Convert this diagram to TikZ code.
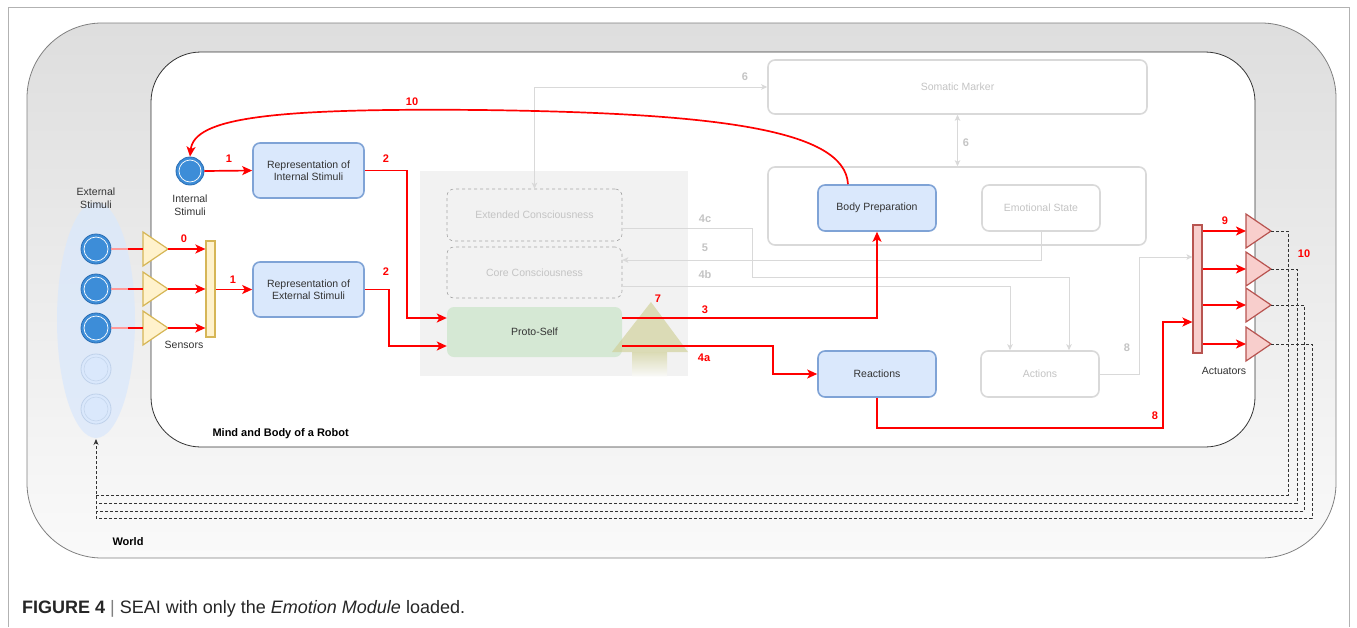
\documentclass[tikz,border=0pt]{standalone}
\usepackage{fontspec}
\setmainfont{Liberation Sans}
\usetikzlibrary{arrows.meta,calc}
\definecolor{redline}{HTML}{FF0000}
\definecolor{bluefill}{HTML}{DAE8FC}
\definecolor{blueedge}{HTML}{7FA3D6}
\definecolor{dimtext}{HTML}{C4C4C4}
\definecolor{dimedge}{HTML}{D9D9D9}
\definecolor{darktext}{HTML}{333333}
\definecolor{sensfill}{HTML}{FFF2CC}
\definecolor{sensedge}{HTML}{D6B656}
\definecolor{actfill}{HTML}{F8CECC}
\definecolor{actedge}{HTML}{B85450}
\definecolor{stimfill}{HTML}{3D8DD8}
\definecolor{stimedge}{HTML}{2C6EB3}
\definecolor{protofill}{HTML}{D5E8D4}
\definecolor{olive}{HTML}{CFCF96}
\tikzset{
  x=1pt, y=-1pt,
  every node/.style={font=\fontsize{10.5}{12.5}\selectfont, text=darktext, align=center},
  activebox/.style={draw=blueedge, line width=1.6pt, fill=bluefill, rounded corners=7pt, inner sep=0pt},
  dimbox/.style={draw=dimedge, line width=1.6pt, fill=white, rounded corners=7pt, text=dimtext, inner sep=0pt},
  dashbox/.style={draw=gray!70, dashed, line width=0.6pt, rounded corners=7pt, text=dimtext, inner sep=0pt},
  redarr/.style={draw=redline, line width=1.7pt, -{Stealth[length=10pt,width=9pt,inset=2.5pt]}},
  greyarr/.style={draw=dimedge, line width=0.9pt, -{Stealth[length=6pt,width=5.5pt,inset=1.5pt]}},
  greydbl/.style={draw=dimedge, line width=0.9pt, {Stealth[length=6pt,width=5.5pt,inset=1.5pt]}-{Stealth[length=6pt,width=5.5pt,inset=1.5pt]}},
  rednum/.style={text=redline, font=\fontsize{11}{13}\selectfont\bfseries},
  greynum/.style={text=dimtext, font=\fontsize{11}{13}\selectfont\bfseries},
  stim/.style={circle, minimum size=30pt, inner sep=0pt, fill=stimfill, draw=stimedge, line width=0.8pt},
  faint/.style={circle, minimum size=30pt, inner sep=0pt, fill=bluefill, draw=blueedge!50, line width=0.8pt},
  world/.style={draw=black!80, line width=0.8pt, densely dashed},
}
\begin{document}
\begin{tikzpicture}
\useasboundingbox (0,0) rectangle (1357,627);
\fill[white] (0,0) rectangle (1357,627);
% figure frame
\draw[gray!60, line width=1pt] (8,627) -- (8,7) -- (1349,7) -- (1349,627);

% the world
\shade[top color=black!13, bottom color=black!2, rounded corners=75pt]
  (27,23) rectangle (1336,558);
\draw[black!50, line width=0.8pt, rounded corners=75pt] (27,23) rectangle (1336,558);
\node[anchor=west, font=\fontsize{11}{13}\selectfont\bfseries, text=black] (worldlbl) at (109,542) {World};

% mind and body of the robot
\draw[black!80, fill=white, line width=0.8pt, rounded corners=50pt] (151,52) rectangle (1255,447);
\node[anchor=west, font=\fontsize{11}{13}\selectfont\bfseries, text=black] (robotlbl) at (209,434) {Mind and Body of a Robot};

% external stimuli
\fill[bluefill, opacity=0.75] (96,320) ellipse [x radius=39, y radius=118];
\node (extlbl) at (96,198) {External\\Stimuli};
\foreach \i/\yy in {1/249,2/289,3/328} {
  \node[stim] (es\i) at (96,\yy) {};
  \draw[white, line width=0.7pt] (es\i) circle [radius=12];
}
\foreach \i/\yy in {4/369,5/409} {
  \node[faint] (es\i) at (96,\yy) {};
  \draw[blueedge!45, line width=0.6pt] (es\i) circle [radius=12];
}

% sensors
\node[draw=sensedge, fill=sensfill, line width=1.2pt, minimum width=9pt, minimum height=96pt, inner sep=0pt] (sbar) at (210.5,289) {};
\foreach \i/\yy in {1/249,2/289,3/328} {
  \coordinate (sin\i) at (143,\yy);
  \coordinate (sout\i) at (168,\yy);
  \draw[sensedge, fill=sensfill, line width=1.2pt] (143,\yy-17) -- (168,\yy) -- (143,\yy+17) -- cycle;
  \coordinate (spk\i) at (128,\yy);
  \draw[red!40, line width=1.7pt] (es\i.east) -- (spk\i);
  \draw[redline, line width=1.7pt] (spk\i) -- (sin\i);
  \draw[redarr] (sout\i) -- (sout\i -| sbar.west);
}
\node[rednum] (n0) at (184,239) {0};
\node (senslbl) at (184,345) {Sensors};

% internal stimuli
\node[stim, minimum size=28pt] (ist) at (190,171) {};
\draw[white, line width=0.7pt] (ist) circle [radius=11];
\node (istlbl) at (190,205) {Internal\\Stimuli};

% representations
\node[activebox, minimum width=111pt, minimum height=55pt] (repi) at (308.5,170.5) {Representation of\\Internal Stimuli};
\node[activebox, minimum width=111pt, minimum height=55pt] (repe) at (308.5,289.5) {Representation of\\External Stimuli};
\draw[redarr] (ist.east) -- (repi.west);
\node[rednum] (n1a) at (229,159) {1};
\draw[redarr] (sbar.east |- repe.west) -- (repe.west);
\node[rednum] (n1b) at (233,280) {1};

% consciousness levels
\fill[black!5] (420,171) rectangle (688,376);
\node[dashbox, minimum width=175pt, minimum height=52pt] (extc) at (534.5,215) {Extended Consciousness};
\node[dashbox, minimum width=175pt, minimum height=51pt] (corec) at (534.5,272.5) {Core Consciousness};
\node[fill=protofill, rounded corners=7pt, minimum width=175pt, minimum height=50pt, inner sep=0pt] (proto) at (534.5,332) {Proto-Self};

% rising arrow
\fill[olive, opacity=0.65] (612,352) -- (651,302) -- (688,352) -- cycle;
\shade[top color=olive, bottom color=olive!5, opacity=0.65] (632,352) rectangle (667,376);
\node[rednum] (n7) at (658,299) {7};

\draw[redarr] (repi.east) -- ++(42,0) |- ([yshift=14pt]proto.west);
\node[rednum] (n2a) at (386,159) {2};
\draw[redarr] (repe.east) -- ++(24,0) |- ([yshift=-14pt]proto.west);
\node[rednum] (n2b) at (386,272) {2};

% somatic marker and emotional container
\node[dimbox, minimum width=379pt, minimum height=54pt] (somatic) at (957.5,87) {Somatic Marker};
\node[dimbox, minimum width=378pt, minimum height=78pt] (cont) at (957,206) {};
\node[activebox, minimum width=118pt, minimum height=46pt] (bprep) at (877,208) {Body Preparation};
\node[dimbox, minimum width=118pt, minimum height=46pt] (emo) at (1041,208) {Emotional State};

% actions and reactions
\node[activebox, minimum width=118pt, minimum height=46pt] (react) at (877,374) {Reactions};
\node[dimbox, minimum width=118pt, minimum height=46pt] (actions) at (1040,374) {Actions};

% grey connections
\draw[greydbl] (extc.north) |- (somatic.west);
\node[greynum] (n6a) at (745,77) {6};
\draw[greydbl] (somatic.south) -- (somatic.south |- cont.north);
\node[greynum] (n6b) at (966,143) {6};
\draw[greyarr] (emo.south) |- ([yshift=12.5pt]corec.east);
\node[greynum] (n5) at (705,248) {5};
\draw[greyarr] ([yshift=-13pt]extc.east) -| (752,277) -| ([xshift=29pt]actions.north);
\node[greynum] (n4c) at (705,219) {4c};
\draw[greyarr] ([yshift=-13.5pt]corec.east) -| ([xshift=-30pt]actions.north);
\node[greynum] (n4b) at (705,275) {4b};

% actuators
\node[draw=actedge, fill=actfill, line width=1.2pt, minimum width=9pt, minimum height=128pt, inner sep=0pt] (abar) at (1197.5,289) {};
\foreach \i/\yy in {1/231,2/269,3/305,4/344} {
  \coordinate (ain\i) at (1246,\yy);
  \coordinate (atip\i) at (1271,\yy);
  \draw[actedge, fill=actfill, line width=1.2pt] (1246,\yy-17) -- (1271,\yy) -- (1246,\yy+17) -- cycle;
  \draw[redarr] (abar.east |- ain\i) -- (ain\i);
}
\node[rednum] (n9) at (1225,221) {9};
\node[rednum] (n10b) at (1304,254) {10};
\node (actlbl) at (1224,371) {Actuators};

\draw[greyarr] (actions.east) -- ++(40,0) |- ([yshift=32pt]abar.west);
\node[greynum] (n8g) at (1127,348) {8};

% red paths
\draw[redarr] ([yshift=14pt]proto.east) -| (bprep.south);
\node[rednum] (n3) at (705,310) {3};
\draw[redarr] ([yshift=-14pt]proto.east) -- ++(151,0) |- (react.west);
\node[rednum] (n4a) at (704,358) {4a};
\draw[redarr] (react.south) |- (1163,428) |- ([yshift=-33pt]abar.west);
\node[rednum] (n8r) at (1155,416) {8};
\draw[redarr] ([xshift=-29pt]bprep.north) .. controls (845,130) and (720,113) .. (480,110)
  .. controls (270,108) and (194,118) .. (ist.north);
\node[rednum] (n10a) at (412,102) {10};

% feedback to the world
\coordinate (wl) at (96,518);
\draw[world] (atip1) -- (1288,231) -- (1288,495) -- (96,495);
\draw[world] (atip2) -- (1297,269) -- (1297,503) -- (96,503);
\draw[world] (atip3) -- (1304,305) -- (1304,511) -- (96,511);
\draw[world, -{Stealth[length=6pt,width=5pt]}] (atip4) -- (1312,344) -- (1312,518) -- (wl) -- (96,439);

% caption
\node[anchor=west, font=\fontsize{18}{20}\selectfont, text=black!85, inner sep=0pt] (caption) at (22,609)
  {\textbf{FIGURE 4} {\color{black!50}|} SEAI with only the \textit{Emotion Module} loaded.};
\end{tikzpicture}
\end{document}
